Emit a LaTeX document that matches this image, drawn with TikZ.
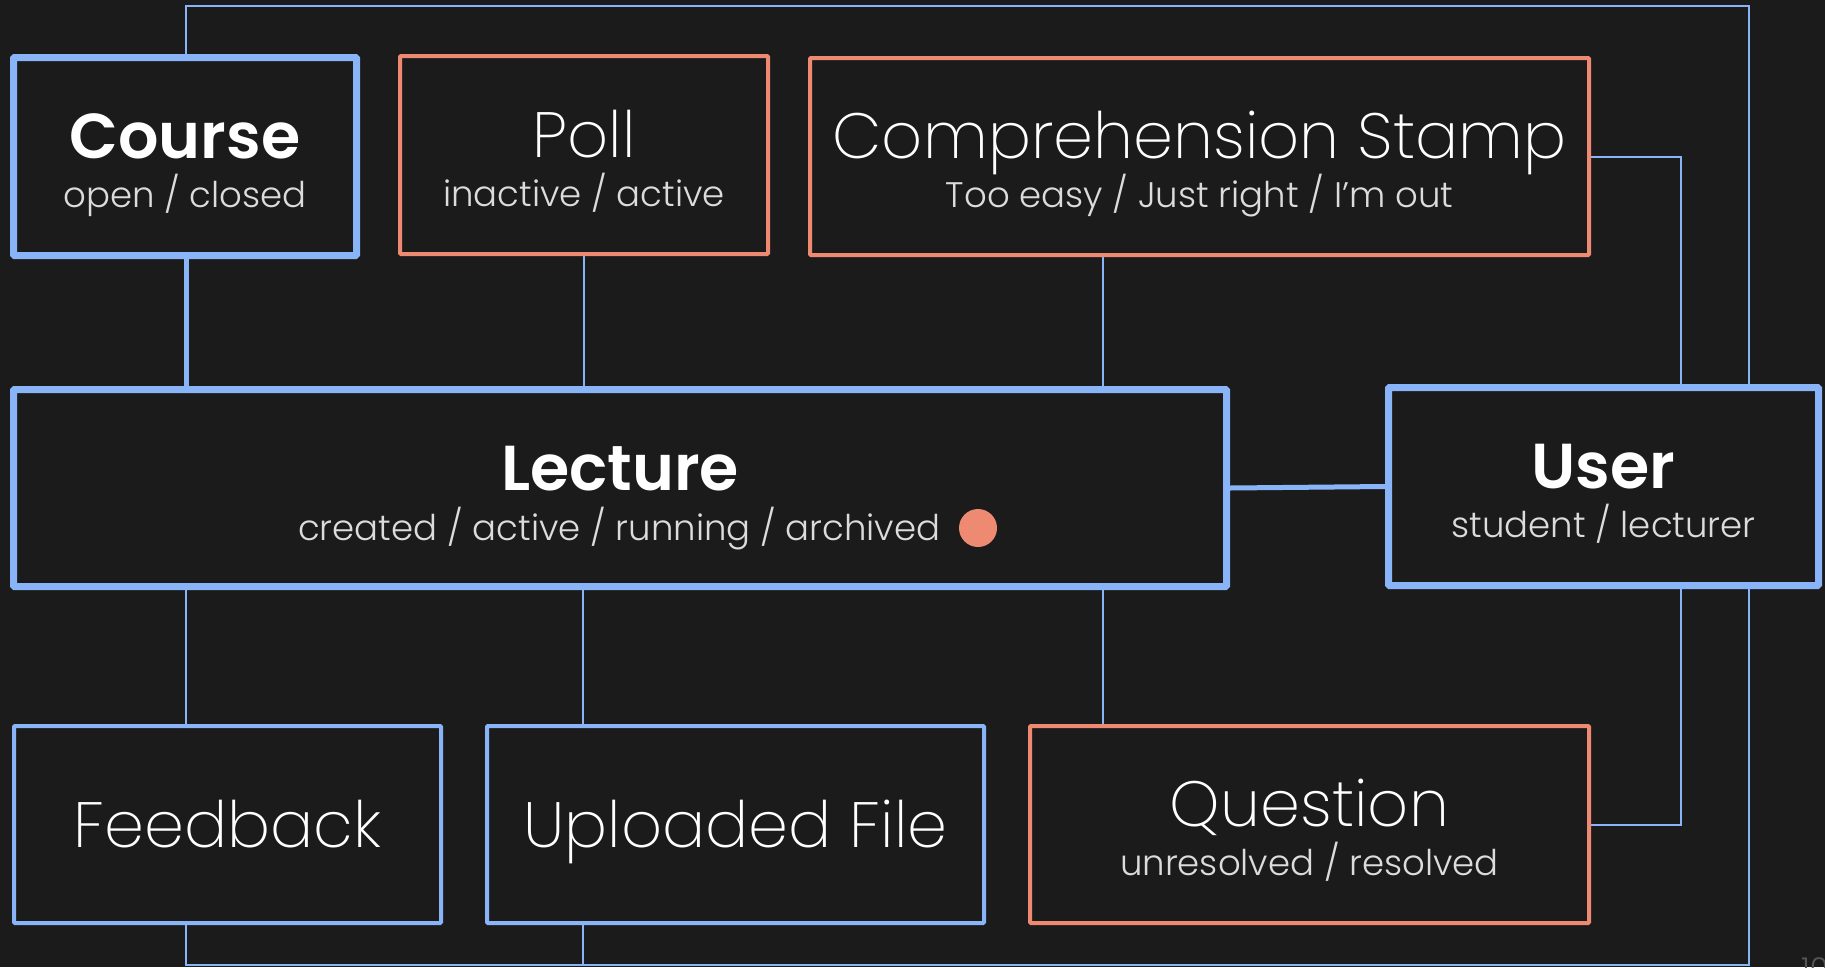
\documentclass[tikz,border=0pt]{standalone}
\usepackage{fontspec}
\IfFontExistsTF{Poppins ExtraLight}{\newfontfamily\thinfont{Poppins ExtraLight}}{\newfontfamily\thinfont{Poppins}}
\IfFontExistsTF{Poppins Light}{\newfontfamily\lightfont{Poppins Light}}{\newfontfamily\lightfont{Poppins}}
\IfFontExistsTF{Poppins SemiBold}{\newfontfamily\boldfont{Poppins SemiBold}}{\newfontfamily\boldfont{Poppins}[FakeBold=2]}
\definecolor{bg}{HTML}{1B1B1B}
\definecolor{lblue}{HTML}{8AB4F8}
\definecolor{salmon}{HTML}{EE8A72}
\definecolor{subgray}{HTML}{DCDCDC}
\definecolor{numgray}{HTML}{555555}
\pgfdeclarelayer{bgl}
\pgfsetlayers{bgl,main}
\tikzset{
  box/.style={draw, rectangle, fill=bg, inner sep=0pt, rounded corners=1pt},
  bluethick/.style={box, draw=lblue, line width=7pt},
  bluethin/.style={box, draw=lblue, line width=4pt},
  salmonbox/.style={box, draw=salmon, line width=4pt},
  ttl/.style={anchor=base, text=white, inner sep=0pt, font=\thinfont\fontsize{64}{64}\selectfont},
  bttl/.style={anchor=base, text=white, inner sep=0pt, font=\boldfont\fontsize{63.5}{64}\selectfont},
  sub/.style={anchor=base, text=subgray, inner sep=0pt, font=\lightfont\fontsize{35.5}{36}\selectfont},
  thinconn/.style={draw=lblue, line width=2pt},
  thickconn/.style={draw=lblue, line width=5pt},
}
\begin{document}
\begin{tikzpicture}[x=1pt,y=-1pt]
\begin{pgfonlayer}{bgl}
\fill[bg] (0,0) rectangle (1825,967);
\end{pgfonlayer}
\useasboundingbox (0,0) rectangle (1825,967);
% boxes
\node[bluethick, minimum width=343pt, minimum height=198pt] (course) at (185,156.5) {};
\node[salmonbox, minimum width=368pt, minimum height=198pt] (poll) at (584,155) {};
\node[salmonbox, minimum width=779pt, minimum height=197pt] (stamp) at (1199.5,156.5) {};
\node[bluethick, minimum width=1213pt, minimum height=197pt] (lecture) at (620,488) {};
\node[bluethick, minimum width=430pt, minimum height=198pt] (user) at (1603.5,486.5) {};
\node[bluethin, minimum width=427pt, minimum height=197pt] (feedback) at (227.5,824.5) {};
\node[bluethin, minimum width=497pt, minimum height=197pt] (upload) at (735.5,824.5) {};
\node[salmonbox, minimum width=559pt, minimum height=197pt] (question) at (1309.5,824.5) {};
% texts
\node[bttl] (courset) at (185,158.5) {Course};
\node[sub] (courses) at (185,207.5) {open / closed};
\node[ttl] (pollt) at (584,157) {Poll};
\node[sub] (polls) at (584,206) {inactive / active};
\node[ttl] (stampt) at (1199.5,158.5) {Comprehension Stamp};
\node[sub] (stamps) at (1199.5,207.5) {Too easy / Just right / I’m out};
\node[bttl] (lecturet) at (620,490) {Lecture};
\node[sub, anchor=base west] (lectures) at (298,540) {created / active / running / archived};
\node[circle, fill=salmon, minimum size=38pt, inner sep=0pt] (dot) at (978,528) {};
\node[bttl] (usert) at (1603.5,488.5) {User};
\node[sub] (users) at (1603.5,537.5) {student / lecturer};
\node[ttl] (feedbackt) at (227.5,847) {Feedback};
\node[ttl] (uploadt) at (735.5,847) {Uploaded File};
\node[ttl] (questiont) at (1309.5,826.5) {Question};
\node[sub] (questions) at (1309.5,875.5) {unresolved / resolved};
\node[anchor=north west, text=numgray, inner sep=0pt, font=\lightfont\fontsize{30}{30}\selectfont] (num) at (1801,957) {10};
% connector columns
\coordinate (c1) at (186,0);
\coordinate (c2) at (583,0);
\coordinate (c3) at (1103,0);
\coordinate (c4) at (1681,0);
\coordinate (c5) at (1749,0);
\coordinate (ftop) at (186,6);
\coordinate (fbot) at (186,965);
\begin{pgfonlayer}{bgl}
\draw[thickconn] (c1 |- course.south) -- (c1 |- lecture.north);
\draw[thickconn] (lecture.east) -- (user.west);
\draw[thinconn] (poll.south) -- (poll.south |- lecture.north);
\draw[thinconn] (c3 |- stamp.south) -- (c3 |- lecture.north);
\draw[thinconn] (c1 |- lecture.south) -- (c1 |- feedback.north);
\draw[thinconn] (c2 |- lecture.south) -- (c2 |- upload.north);
\draw[thinconn] (c3 |- lecture.south) -- (c3 |- question.north);
\draw[thinconn] (stamp.east) -- (c4 |- stamp.east) -- (c4 |- user.north);
\draw[thinconn] (c4 |- user.south) -- (c4 |- question.east) -- (question.east);
\draw[thinconn] (c1 |- course.north) -- (ftop) -- (c5 |- ftop) -- (c5 |- user.north);
\draw[thinconn] (c5 |- user.south) -- (c5 |- fbot) -- (fbot) -- (c1 |- feedback.south);
\draw[thinconn] (c2 |- upload.south) -- (c2 |- fbot);
\end{pgfonlayer}
\end{tikzpicture}
\end{document}
